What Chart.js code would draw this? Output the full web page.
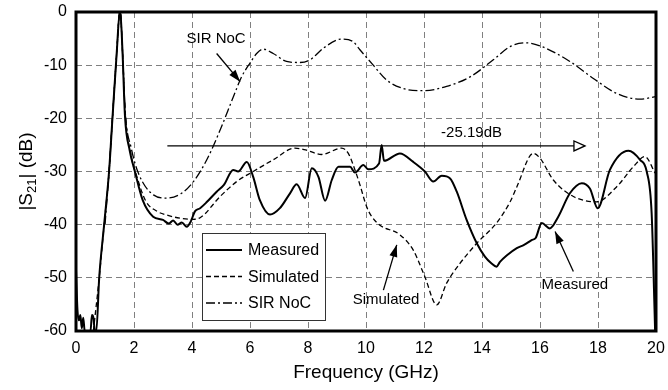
<!DOCTYPE html>
<html lang="en">
<head>
<meta charset="UTF-8">
<title>S21</title>
<script src="https://cdn.jsdelivr.net/npm/chart.js"></script>
<style>
  html, body { margin: 0; padding: 0; background: #fff; }
  #wrap { width: 668px; height: 390px; }
</style>
</head>
<body>
<div id="wrap"><canvas id="s21Chart" width="668" height="390"></canvas></div>
<script>
  // tick labels
  const xTicks = [0, 2, 4, 6, 8, 10, 12, 14, 16, 18, 20];
  const yTicks = [0, -10, -20, -30, -40, -50, -60];

  // Measured
  const measFreq = [0, 0.05, 0.1, 0.15, 0.2, 0.25, 0.3, 0.4, 0.5, 0.55, 0.6, 0.65, 0.7, 0.8, 0.97, 1.14, 1.26, 1.4, 1.52, 1.6, 1.69, 1.85, 2.03, 2.3, 2.66, 3.0, 3.2, 3.35, 3.5, 3.65, 3.82, 3.95, 4.1, 4.28, 4.5, 4.85, 5.1, 5.42, 5.59, 5.89, 6.11, 6.34, 6.69, 7.03, 7.38, 7.61, 7.9, 8.13, 8.36, 8.59, 8.82, 9.05, 9.45, 9.62, 9.91, 10.08, 10.45, 10.54, 10.62, 11.17, 11.63, 12.03, 12.32, 12.61, 12.9, 13.13, 13.47, 13.82, 14.1, 14.33, 14.5, 14.62, 14.85, 15.2, 15.45, 15.71, 15.85, 16.06, 16.34, 16.63, 17.03, 17.44, 17.72, 17.99, 18.41, 19.05, 19.45, 19.68, 19.85, 19.97];
  const measDb = [-48.5, -56, -58, -57, -59.5, -57.5, -60, -60, -60, -57, -57.5, -60, -60, -50, -40, -30, -19.7, -8, 0.5, -7, -19.7, -26, -30, -35.4, -38.5, -39.1, -39.8, -39.2, -40, -39.6, -40.4, -39.5, -37.5, -36.9, -35.8, -33.8, -32.5, -29.7, -30, -28.2, -31, -35.4, -38.1, -36.9, -34.1, -32.4, -35, -29.4, -31, -35.5, -31.6, -29.1, -29.1, -30.2, -28.8, -29.6, -28.5, -25.0, -28, -26.6, -28.2, -30, -31.9, -30.8, -31.3, -33.8, -39.1, -43.5, -46, -47.3, -47.9, -47, -45.8, -44.4, -43.8, -42.9, -42.5, -39.7, -40.7, -38.5, -34.1, -32.2, -33.2, -36.9, -29.7, -26.1, -27.8, -30, -37.9, -60];

  // Simulated
  const simFreq = [0.6, 0.8, 0.97, 1.14, 1.26, 1.4, 1.52, 1.6, 1.7, 1.9, 2.1, 2.4, 2.8, 3.2, 3.6, 4.0, 4.28, 4.97, 5.54, 6.11, 6.8, 7.55, 7.95, 8.47, 9.16, 9.39, 9.62, 9.79, 10.02, 10.2, 10.48, 11.17, 11.63, 12.03, 12.44, 12.78, 13.24, 13.82, 14.5, 14.97, 15.2, 15.77, 16.0, 16.46, 17.15, 17.95, 18.64, 19.22, 19.62, 19.97];
  const simDb = [-60, -50, -40, -30, -19.7, -8, 0.5, -7, -19, -27, -31, -35.5, -37.5, -38.3, -38.8, -39, -38.7, -34.7, -31.9, -30, -27.8, -25.6, -26, -26.8, -25.6, -26.6, -29.7, -32.5, -36.6, -38.5, -40.1, -41.9, -44.8, -49.8, -55.1, -51, -47.3, -43.5, -39.7, -35.7, -32.9, -26.6, -27.5, -31.6, -34.7, -35.7, -32.9, -29.1, -27.2, -30.3];

  // SIR NoC
  const sirFreq = [1.0, 1.14, 1.26, 1.4, 1.52, 1.6, 1.7, 1.9, 2.15, 2.67, 3.13, 3.64, 4.05, 4.51, 4.97, 5.43, 5.71, 6.0, 6.23, 6.46, 6.8, 7.26, 7.72, 8.07, 8.53, 9.16, 9.56, 9.79, 10.25, 10.71, 11.29, 11.98, 12.78, 13.59, 14.39, 14.97, 15.54, 16.06, 17.03, 17.84, 18.64, 19.45, 20];
  const sirDb = [-40, -30, -19.7, -8, 0.5, -7, -19, -25.5, -30.3, -34.4, -35, -34.1, -31.9, -27.8, -22.2, -15.9, -12.2, -9.6, -7.8, -7.0, -7.8, -9.3, -9.5, -9.0, -6.8, -5.1, -5.6, -7.1, -10, -12.8, -14.4, -14.8, -14.0, -12.2, -9.0, -6.5, -5.8, -6.5, -9.3, -12.5, -15.3, -16.4, -15.9];

  const toPoints = (xs, ys) => xs.map((x, i) => ({ x: x, y: ys[i] }));

  const font = "'Liberation Sans', Arial, sans-serif";

  const seriesStyle = [
    { label: 'Measured', dash: [], width: 2 },
    { label: 'Simulated', dash: [5, 3], width: 1.3 },
    { label: 'SIR NoC', dash: [9, 3, 2, 3], width: 1.3 }
  ];

  function arrow(ctx, x1, y1, x2, y2, open) {
    const a = Math.atan2(y2 - y1, x2 - x1);
    const len = open ? 11 : 12, half = open ? 5 : 4;
    const bx = x2 - len * Math.cos(a), by = y2 - len * Math.sin(a);
    ctx.beginPath();
    ctx.moveTo(x1, y1);
    ctx.lineTo(open ? bx : x2, open ? by : y2);
    ctx.stroke();
    ctx.beginPath();
    ctx.moveTo(x2, y2);
    ctx.lineTo(bx + half * Math.sin(a), by - half * Math.cos(a));
    ctx.lineTo(bx - half * Math.sin(a), by + half * Math.cos(a));
    ctx.closePath();
    if (open) {
      ctx.fillStyle = '#fff';
      ctx.fill();
      ctx.stroke();
    } else {
      ctx.fillStyle = '#000';
      ctx.fill();
    }
  }

  const extras = {
    id: 'extras',
    afterDatasetsDraw(chart) {
      const ctx = chart.ctx;
      const a = chart.chartArea;
      const xs = chart.scales.x, ys = chart.scales.y;
      const px = v => xs.getPixelForValue(v);
      const py = v => ys.getPixelForValue(v);

      ctx.save();
      ctx.strokeStyle = '#000';
      ctx.fillStyle = '#000';
      ctx.lineWidth = 1.3;
      ctx.setLineDash([]);

      // -25.19dB marker
      arrow(ctx, px(3.15), py(-25.19), px(17.55), py(-25.19), true);

      ctx.font = '15px ' + font;
      ctx.fillStyle = '#000';
      ctx.textAlign = 'center';
      ctx.textBaseline = 'middle';
      ctx.fillText('-25.19dB', px(13.64), py(-22.8));

      ctx.fillText('SIR NoC', px(4.83), py(-5.1));
      arrow(ctx, px(4.85), py(-7.8), px(5.66), py(-13.1), false);

      ctx.fillStyle = '#000';
      ctx.fillText('Simulated', px(10.69), py(-54.2));
      arrow(ctx, px(10.6), py(-52.3), px(11.06), py(-43.8), false);

      ctx.fillStyle = '#000';
      ctx.fillText('Measured', px(17.2), py(-51.3));
      arrow(ctx, px(17.15), py(-48.8), px(16.52), py(-41.3), false);

      // legend box
      const lx = a.left + 126, ly = a.top + 221;
      ctx.fillStyle = '#fff';
      ctx.fillRect(lx, ly, 123, 87);
      ctx.lineWidth = 1;
      ctx.strokeStyle = '#333';
      ctx.strokeRect(lx + 0.5, ly + 0.5, 123, 87);
      ctx.font = '16px ' + font;
      ctx.textAlign = 'left';
      seriesStyle.forEach((s, i) => {
        const yy = ly + 17 + i * 26.5;
        ctx.strokeStyle = '#000';
        ctx.lineWidth = s.width;
        ctx.setLineDash(s.dash);
        ctx.beginPath();
        ctx.moveTo(lx + 4, yy);
        ctx.lineTo(lx + 40, yy);
        ctx.stroke();
        ctx.setLineDash([]);
        ctx.fillStyle = '#000';
        ctx.fillText(s.label, lx + 46, yy + 1);
      });

      // frame
      ctx.lineWidth = 3;
      ctx.strokeStyle = '#000';
      ctx.strokeRect(a.left, a.top, a.right - a.left, a.bottom - a.top);

      // axis titles
      ctx.fillStyle = '#000';
      ctx.font = '19px ' + font;
      ctx.textAlign = 'center';
      ctx.fillText('Frequency (GHz)', (a.left + a.right) / 2, 373);

      ctx.translate(27, (a.top + a.bottom) / 2);
      ctx.rotate(-Math.PI / 2);
      const p1 = '|S', p2 = '21', p3 = '| (dB)';
      ctx.font = '19px ' + font;
      const w1 = ctx.measureText(p1).width, w3 = ctx.measureText(p3).width;
      ctx.font = '13px ' + font;
      const w2 = ctx.measureText(p2).width;
      let x0 = -(w1 + w2 + w3) / 2;
      ctx.textAlign = 'left';
      ctx.font = '19px ' + font;
      ctx.fillText(p1, x0, 0);
      ctx.font = '13px ' + font;
      ctx.fillText(p2, x0 + w1, 5);
      ctx.font = '19px ' + font;
      ctx.fillText(p3, x0 + w1 + w2, 0);
      ctx.restore();
    }
  };

  const datasets = [
    toPoints(measFreq, measDb),
    toPoints(simFreq, simDb),
    toPoints(sirFreq, sirDb)
  ].map((pts, i) => ({
    label: seriesStyle[i].label,
    data: pts,
    borderColor: '#000',
    borderWidth: seriesStyle[i].width,
    borderDash: seriesStyle[i].dash,
    pointRadius: 0,
    fill: false,
    cubicInterpolationMode: 'monotone'
  }));

  const gridOpts = { color: '#808080', lineWidth: 1, drawTicks: false };

  new Chart(document.getElementById('s21Chart').getContext('2d'), {
    type: 'line',
    data: { datasets: datasets },
    plugins: [extras],
    options: {
      responsive: false,
      animation: false,
      layout: { padding: { top: 12, right: 12, left: 0, bottom: 0 } },
      plugins: { legend: { display: false }, tooltip: { enabled: false } },
      scales: {
        x: {
          type: 'linear',
          min: 0, max: 20,
          afterBuildTicks: s => { s.ticks = xTicks.map(v => ({ value: v })); },
          afterFit: s => { s.height = 59; s.paddingLeft = 0; s.paddingRight = 0; },
          grid: gridOpts,
          border: { display: false, dash: [6, 4] },
          ticks: { color: '#000', padding: 8, font: { family: font, size: 16 }, maxRotation: 0 }
        },
        y: {
          min: -60, max: 0,
          afterBuildTicks: s => { s.ticks = yTicks.map(v => ({ value: v })); },
          afterFit: s => { s.width = 76; s.paddingTop = 0; s.paddingBottom = 0; },
          grid: gridOpts,
          border: { display: false, dash: [6, 4] },
          ticks: { color: '#000', padding: 9, font: { family: font, size: 16 } }
        }
      }
    }
  });
</script>
</body>
</html>
